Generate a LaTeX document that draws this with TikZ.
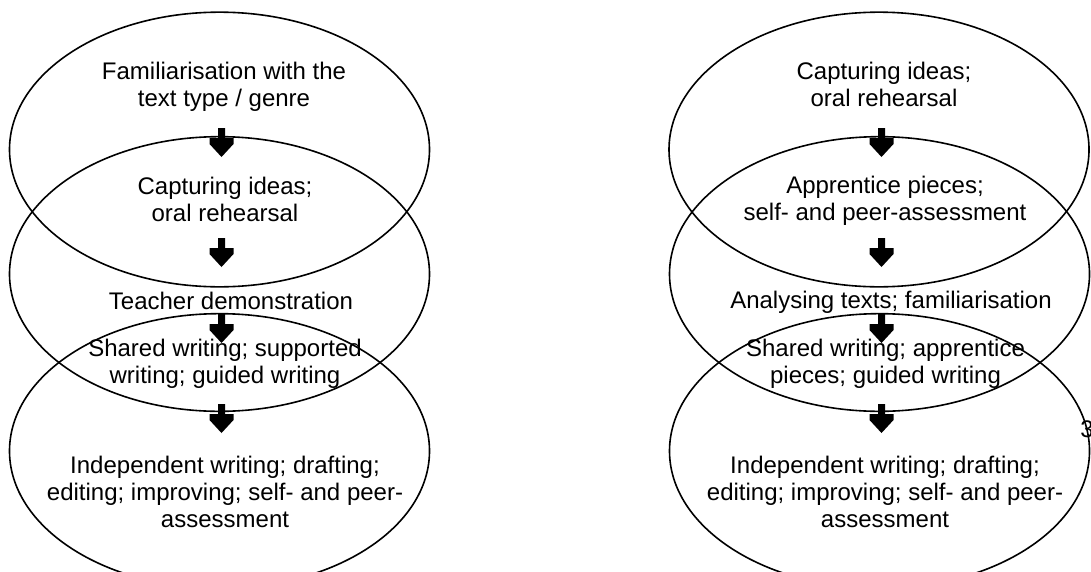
\documentclass[tikz,border=0pt]{standalone}
\usepackage{fontspec}
\setmainfont{Liberation Sans}
\usetikzlibrary{shapes.geometric}
\begin{document}
\begin{tikzpicture}[x=0.75pt,y=-0.75pt,
  ell/.style={ellipse, draw=black, line width=1.2pt, minimum width=315pt, minimum height=206pt, inner sep=0pt},
  lbl/.style={font=\fontsize{18}{20.25}\selectfont, align=center, inner sep=0pt, anchor=base},
  downarrow/.pic={\fill[black] (-3.5,0) -- (3.5,0) -- (3.5,10) -- (12,10) -- (12,16) -- (0,29) -- (-12,16) -- (-12,10) -- (-3.5,10) -- cycle;}]
\useasboundingbox (0,0) rectangle (1091,571);
% left column
\node[ell] (le1) at (219.5,149.5) {};
\node[ell] (le2) at (219.5,274) {};
\node[ell] (le3) at (219.5,451) {};
\node[lbl] (lt1) at (224,106) {Familiarisation with the\\text type / genre};
\node[lbl] (lt2) at (225,221.5) {Capturing ideas;\\oral rehearsal};
\node[lbl] (lt3) at (231,309) {Teacher demonstration};
\node[lbl] (lt4) at (225,383.5) {Shared writing; supported\\writing; guided writing};
\node[lbl] (lt5) at (225,527) {Independent writing; drafting;\\editing; improving; self- and peer-\\assessment};
\pic at (221.5,128) {downarrow};
\pic at (221.5,238) {downarrow};
\pic at (221.5,314) {downarrow};
\pic at (221.5,404) {downarrow};
% right column
\node[ell] (re1) at (879,149.5) {};
\node[ell] (re2) at (879.5,274) {};
\node[ell] (re3) at (879.5,451) {};
\node[lbl] (rt1) at (884,106) {Capturing ideas;\\oral rehearsal};
\node[lbl] (rt2) at (885,220.5) {Apprentice pieces;\\self- and peer-assessment};
\node[lbl] (rt3) at (891,308.5) {Analysing texts; familiarisation};
\node[lbl] (rt4) at (885.5,383.5) {Shared writing; apprentice\\pieces; guided writing};
\node[lbl] (rt5) at (885,527) {Independent writing; drafting;\\editing; improving; self- and peer-\\assessment};
\pic at (881.5,128) {downarrow};
\pic at (881.5,238) {downarrow};
\pic at (881.5,314) {downarrow};
\pic at (881.5,404) {downarrow};
\node[lbl, anchor=base west] (pg) at (1080,437) {3};
\end{tikzpicture}
\end{document}
